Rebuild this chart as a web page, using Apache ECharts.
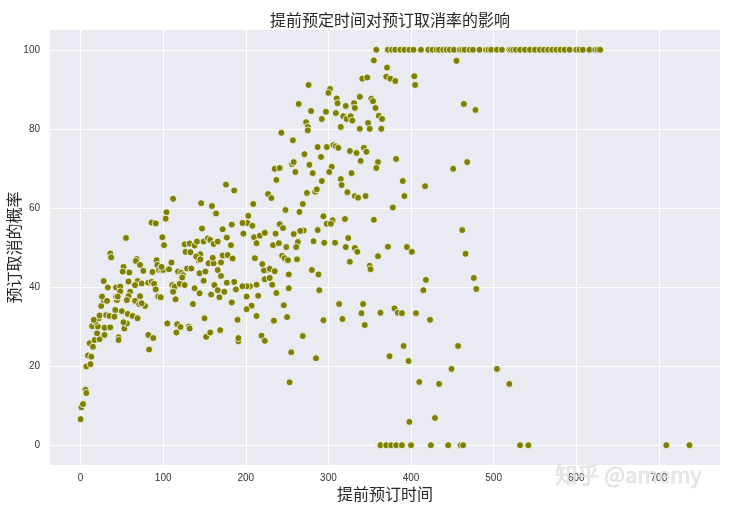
<!DOCTYPE html>
<html><head><meta charset="utf-8">
<script src="https://cdn.jsdelivr.net/npm/echarts@6/dist/echarts.min.js"></script>
<style>html,body{margin:0;padding:0;background:#fff}#c{width:730px;height:507px}</style>
</head><body><div id="c"></div>
<script>
// lead time (days) vs. cancellation probability (%) — scattered cloud
const cloudPoints = [
[0,6.6],[1,9.6],[3,10.4],[6,14],[7,13.2],[7,19.9],[12,20.5],[9,22.7],[13,22.4],
[11,25.8],[15,24.9],[17,26.6],[23,26.8],[29,27.9],[20,28.3],[14,30.1],[21,30],[29,29.7],[18,31.2],[22,32.1],[16,31.7],[23,32.8],[25,35.2],[28,36.7],[26,37.6],[28,41.5],[33,39.9],[32,36.5],[31,32.9],[35,32.7],[36,29.8],[41,32.5],[42,34.2],[44,36.7],[43,37.6],[46,27.3],[46,26.6],[50,33.9],[53,29.5],[56,30.8],[52,31.1],[57,33.2],[59,43.7],[60,38.8],[63,32.7],[69,32.1],[66,36.5],[72,37.7],[71,35.7],[78,35.2],[74,35.9],[82,27.9],[83,24.2],[88,27.1],[86,56.3],[91,56.1],[55,52.4],[36,48.5],[37,47.5],[52,45.1],[51,43.9],[68,47.1],[67,46.6],[72,45.6],[76,44.1],[69,41.5],[74,40.9],[66,40.5],[58,41.4],[43,39.9],[48,40.1],[48,38.9],[45,37.6],[58,37.7],[56,36.7],[82,41.1],[86,41.3],[89,40.8],[92,46.8],[93,45.6],[87,43.8],[95,44.3],[98,44.3],[100,44.3],[98,45.1],[91,39.4],[94,37.6],[97,37.4],[101,50.6],[99,52.6],[104,58.9],[103,57.3],[105,30.8],[107,44.5],[110,46.2],[111,40.5],[114,40.1],[112,38.8],[115,36.9],[118,43.9],[122,43.6],[124,43],[123,42.4],[120,40.8],[126,40.5],[129,44.7],[134,44.7],[136,35.7],[126,50.8],[132,51],[127,48.9],[133,48.8],[138,50.5],[141,51.5],[147,54.8],[149,51.5],[154,52.3],[157,51.9],[161,50.9],[166,51.5],[172,54.6],[183,55.8],[177,52.5],[182,50.6],[145,48.3],[143,46.8],[140,47.7],[145,47],[155,46],[161,46],[160,47.4],[170,46.2],[172,48],[178,48.1],[184,47.2],[144,43.5],[151,43.9],[149,41.6],[166,44.3],[170,42.8],[162,40.5],[166,39.2],[174,38.8],[177,41.1],[186,41.3],[188,39.4],[168,37.4],[138,39.7],[144,38.4],[158,38.1],[183,36.1],[150,32.1],[152,27.4],[157,28.5],[169,29.1],[117,30.6],[116,28.5],[121,29.9],[131,30],[132,29.5],
[146,61.2],[159,60.5],[164,58.6],[112,62.3],[190,31.7],
[176,65.9],[186,64.4],[235,69.9],[237,67.1],[227,63.5],[231,62.5],
[209,61],[203,58],[202,56.2],[208,55.5],[197,53.5],[196,56.2],[210,52.6],[217,53],[223,53.7],[236,53.5],[233,50.6],[213,51.1],[211,47.3],[220,45.8],[227,44.4],[222,44.2],[229,44.6],[235,44],[223,42],[229,42.3],[232,40.6],[213,40.6],[205,40.2],[201,40.2],[196,40.2],[201,37.6],[215,37.8],[237,38.5],[207,35.3],[201,34.4],[213,32.7],[234,31.5],[219,27.7],[223,26.4],[191,26.3],[191,27.1],
[355,97.3],[371,95.5],[370,93.2],[375,92.7],[381,92.1],[404,93.3],[405,91.1],[341,92.7],[347,93],[276,91.1],[302,90.1],[300,89.1],[264,86.3],[279,84.5],[310,87.7],[311,86.5],[321,85.8],[331,86.5],[332,85.3],[338,88.1],[352,87.6],[354,87],[357,85.3],[297,84.3],[309,84],[292,82.5],[318,83.2],[322,82.5],[327,83.2],[329,82.1],[348,81.5],[350,80],[361,83.3],[365,82.5],[364,80],[338,80],[315,80.5],[273,81.7],[275,80.5],[275,79.6],[243,79],[257,77.1],[287,75.4],[298,75.4],[291,72.9],[306,75.9],[309,75.6],[312,75.2],[326,74.4],[334,73.9],[339,71.9],[343,75.2],[346,74.2],[271,73.6],[360,71.6],[358,70.1],[382,72.4],[241,70.1],[256,71.1],[258,71.6],[260,69.1],[277,70.9],[281,68.8],[304,70.4],[301,69.1],[292,66.8],[315,67.3],[316,65.8],[328,68.8],[323,64],[332,63],[336,62.6],[345,63],[390,66.8],[392,63],[417,65.5],[378,60.1],[355,57],[274,63.8],[284,64.1],[286,64.7],[269,61],[265,59],[248,59.5],[294,57.9],[305,56.9],[298,56],[303,56],[320,57.2],[270,54.3],[266,54.2],[287,54.4],[282,51.6],[295,51.2],[308,51.2],[324,52.4],[321,50.1],[332,49.9],[335,48.9],[372,50.2],[395,50.1],[401,48.9],[360,47.8],[258,53.4],[263,51.4],[241,55.9],[245,54.9],[240,51.1],[249,50.1],[261,50.1],
[244,47.9],[247,47.3],[251,46.8],[262,47],[252,43.2],[252,39.7],[280,44.3],[288,43.2],[289,39.2],[246,35.4],[250,32.4],[294,31.6],[269,27.6],[255,23.5],[285,22],[253,15.9],[313,35.7],[317,31.9],[342,35.7],[340,33.4],[344,30.4],[363,33.5],[380,34.6],[384,33.5],[374,22.5],[326,46.4],[350,45.4],[351,44.5],
[455,97.2],[464,86.3],[478,84.8],
[451,69.9],[468,71.6],[462,54.4],[466,48.4],[418,41.8],[415,39.2],[476,42.3],[479,39.5],[389,33.4],[406,33.4],[423,31.7],[391,25.1],[397,21.3],[457,25.1],[449,19.3],[504,19.3],[410,16],[434,15.5],[519,15.5],[398,5.9],[429,6.9]
];
// lead times whose bookings were all cancelled (probability 100)
const fullCancelLeadTimes = [358,372,377,381,387,392,398,403,412,421,426,431,434,439,443,447,452,459,462,465,471,475,483,491,494,497,504,510,519,521,524,527,532,538,544,550,556,561,566,571,576,581,586,592,600,604,608,616,623,626,629];
const fullCancelRate = 100;
// lead times with no cancellation (probability 0)
const zeroCancelLeadTimes = [363,370,376,382,389,400,424,445,460,463,532,542,709,737];
const zeroCancelRate = 0;
const xTicks = [0,100,200,300,400,500,600,700];
const yTicks = [0,20,40,60,80,100];

const allPoints = cloudPoints
  .concat(fullCancelLeadTimes.map(x => [x, fullCancelRate]))
  .concat(zeroCancelLeadTimes.map(x => [x, zeroCancelRate]));

const chart = echarts.init(document.getElementById('c'), null, {renderer: 'canvas'});
const tickFont = {color: '#333', fontSize: 10, fontFamily: '"Liberation Sans Narrow","Liberation Sans",Arial,sans-serif'};
const cjk = '"Noto Sans CJK SC","Noto Sans",sans-serif';
chart.setOption({
  animation: false,
  backgroundColor: '#ffffff',
  title: {
    text: '提前预定时间对预订取消率的影响',
    left: 385, top: 7, textAlign: 'center',
    textStyle: {fontFamily: cjk, fontSize: 16, fontWeight: 'normal', color: '#262626'}
  },
  grid: {left: 50, right: 10, top: 30, bottom: 42, show: true, backgroundColor: '#EAEAF2', borderWidth: 0,
         containLabel: false, outerBoundsMode: 'none'},
  xAxis: {
    type: 'value', min: -37, max: 774,
    name: '提前预订时间', nameLocation: 'middle', nameGap: 21, nameMoveOverlap: false,
    nameTextStyle: {fontFamily: cjk, fontSize: 16, color: '#262626'},
    axisLine: {show: false},
    axisTick: {show: false, customValues: xTicks},
    axisLabel: Object.assign({customValues: xTicks, margin: 8}, tickFont),
    splitLine: {show: true, lineStyle: {color: '#ffffff', width: 1}}
  },
  yAxis: {
    type: 'value', min: -5, max: 105,
    name: '预订取消的概率', nameLocation: 'middle', nameGap: 28, nameMoveOverlap: false,
    nameTextStyle: {fontFamily: cjk, fontSize: 16, color: '#262626'},
    axisLine: {show: false},
    axisTick: {show: false, customValues: yTicks},
    axisLabel: Object.assign({customValues: yTicks, margin: 10}, tickFont),
    splitLine: {show: true, lineStyle: {color: '#ffffff', width: 1}}
  },
  series: [{
    type: 'scatter',
    data: allPoints,
    symbol: 'circle',
    symbolSize: 7,
    itemStyle: {color: '#808000', borderColor: '#ffffff', borderWidth: 0.8, opacity: 1}
  }],
  graphic: [{
    type: 'text', left: 555, top: 463, z: 100, silent: true,
    style: {text: '知乎 @amemy', font: '22px "Noto Sans CJK SC", sans-serif', fill: 'rgba(228,228,228,0.85)', stroke: 'rgba(160,160,160,0.55)', lineWidth: 0.5}
  }]
});
</script>
</body></html>
